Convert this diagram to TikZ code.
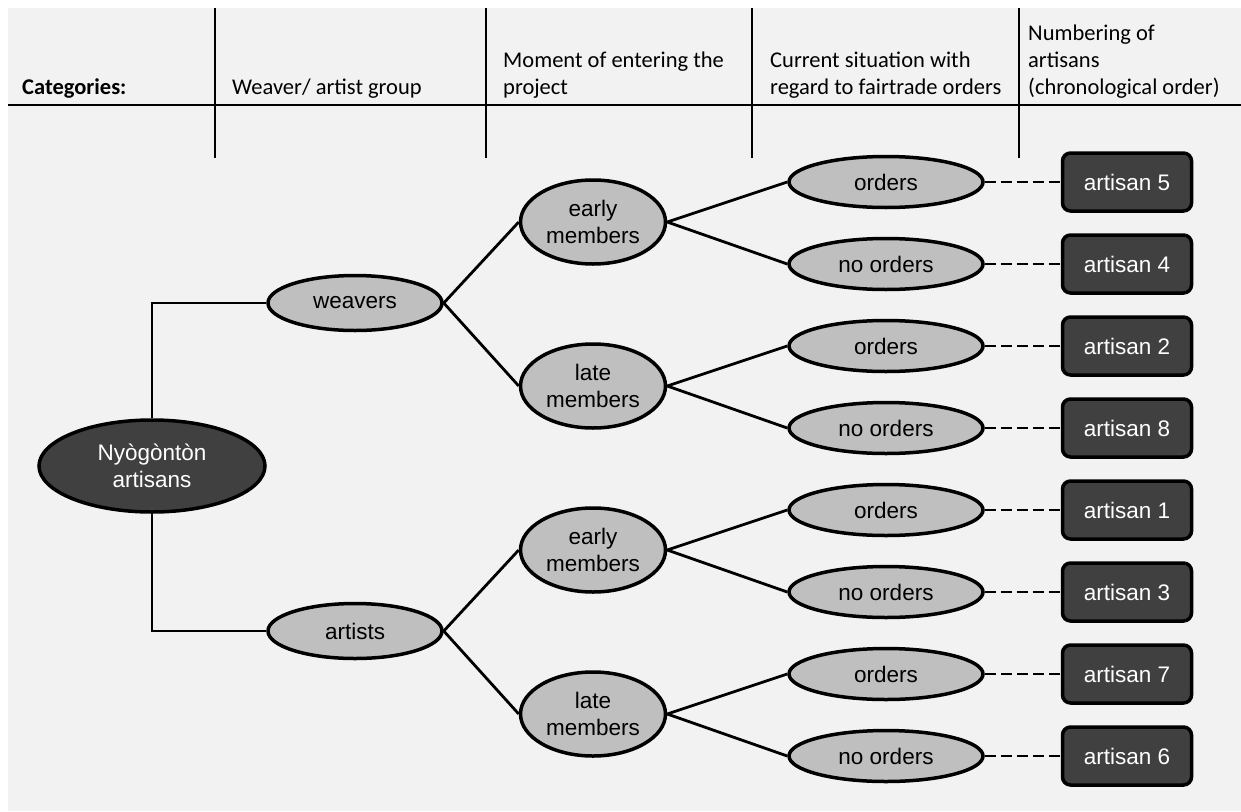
\documentclass[tikz,border=0pt]{standalone}
\usepackage{fontspec}
\setmainfont{Liberation Sans}
\newfontfamily\hdrfont{Carlito}
\usepackage{tikz}
\usetikzlibrary{shapes.geometric, positioning}

\definecolor{bgGray}{HTML}{F2F2F2}
\definecolor{lightNode}{HTML}{BFBFBF}
\definecolor{darkNode}{HTML}{404040}

\begin{document}
\begin{tikzpicture}[
    x=1pt, y=-1pt,
    hdr/.style={anchor=base west, align=left, inner sep=0pt, font=\hdrfont\fontsize{22.5}{27}\selectfont},
    light/.style={ellipse, draw=black, line width=3.5pt, fill=lightNode, inner sep=0pt, align=center, font=\fontsize{22.5}{27}\selectfont},
    dark/.style={ellipse, draw=black, line width=3.5pt, fill=darkNode, text=white, inner sep=0pt, align=center, font=\fontsize{22.5}{27}\selectfont},
    artbox/.style={rectangle, rounded corners=8pt, draw=black, line width=3.5pt, fill=darkNode, text=white, minimum width=129, minimum height=58, font=\fontsize{22.5}{27}\selectfont},
    link/.style={line width=2.8pt},
    dlink/.style={line width=2.8pt, dash pattern=on 11pt off 5pt}
]
    \useasboundingbox (0,0) rectangle (1241,811);
    \fill[bgGray] (8,8) rectangle (1241,811);

    % Header row
    \draw[line width=2.8pt] (8,105) -- (1241,105);
    \foreach \x in {215,486,752,1019} {
        \draw[line width=2.8pt] (\x,8) -- (\x,158);
    }
    \node[hdr] (hcat) at (22,94) {\bfseries Categories:};
    \node[hdr] (hgrp) at (232,94) {Weaver/ artist group};
    \node[hdr] (hmom) at (503,94) {Moment of entering the\\project};
    \node[hdr] (hcur) at (770,94) {Current situation with\\regard to fairtrade orders};
    \node[hdr] (hnum) at (1028,94) {Numbering of\\artisans\\(chronological order)};

    % Root and groups
    \node[dark, minimum width=226, minimum height=92] (root) at (152,466) {Ny\`og\`ont\`on\\artisans};
    \node[light, minimum width=174, minimum height=55] (weav) at (355,303) {weavers};
    \node[light, minimum width=174, minimum height=55] (arts) at (355,631) {artists};
    \draw[link] (root.north) |- (weav.west);
    \draw[link] (root.south) |- (arts.west);

    % Moment of entering
    \node[light, minimum width=145, minimum height=84] (m1) at (593,222) {early\\members};
    \node[light, minimum width=145, minimum height=84] (m2) at (593,386) {late\\members};
    \node[light, minimum width=145, minimum height=84] (m3) at (593,550) {early\\members};
    \node[light, minimum width=145, minimum height=84] (m4) at (593,714) {late\\members};
    \draw[link] (weav.east) -- (m1.west);
    \draw[link] (weav.east) -- (m2.west);
    \draw[link] (arts.east) -- (m3.west);
    \draw[link] (arts.east) -- (m4.west);

    % Orders and artisans
    \foreach \n/\lab [count=\i] in {5/orders, 4/no orders, 2/orders, 8/no orders,
                                    1/orders, 3/no orders, 7/orders, 6/no orders} {
        \node[light, minimum width=194, minimum height=51] (o\i) at (886,100+82*\i) {\lab};
        \node[artbox] (a\i) at (1127,100+82*\i) {artisan \n};
        \draw[dlink] (o\i.east) -- (a\i.west);
    }
    \foreach \k in {1,...,4} {
        \pgfmathtruncatemacro{\up}{2*\k-1}
        \pgfmathtruncatemacro{\dn}{2*\k}
        \draw[link] (m\k.east) -- (o\up.west);
        \draw[link] (m\k.east) -- (o\dn.west);
    }
\end{tikzpicture}
\end{document}
